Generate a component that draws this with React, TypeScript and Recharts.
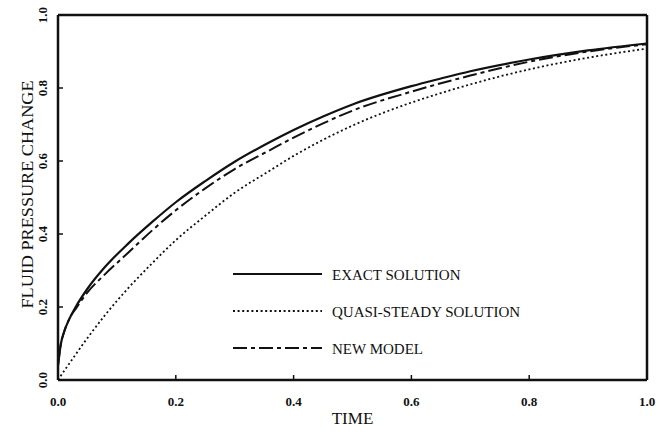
import React from 'react';
import { LineChart, Line, XAxis, YAxis, Legend, CartesianGrid } from 'recharts';

// time (dimensionless) and the three pressure curves
const times = [0, 0.005, 0.01, 0.02, 0.03, 0.05, 0.08, 0.12, 0.16, 0.2, 0.25, 0.3, 0.36, 0.4, 0.45, 0.5, 0.6, 0.65, 0.7, 0.8, 0.9, 1.0];
const exactSolution = [0.04, 0.1, 0.13, 0.17, 0.2, 0.25, 0.31, 0.375, 0.433, 0.487, 0.545, 0.598, 0.652, 0.685, 0.722, 0.755, 0.805, 0.826, 0.846, 0.878, 0.903, 0.922];
const quasiSteady = [0, 0.012, 0.024, 0.047, 0.07, 0.115, 0.178, 0.253, 0.32, 0.383, 0.45, 0.513, 0.574, 0.614, 0.658, 0.697, 0.76, 0.786, 0.81, 0.851, 0.883, 0.908];
const newModel = [0.04, 0.1, 0.13, 0.17, 0.195, 0.24, 0.29, 0.35, 0.41, 0.465, 0.525, 0.578, 0.63, 0.664, 0.703, 0.738, 0.79, 0.813, 0.834, 0.872, 0.9, 0.92];

const seriesNames = ['EXACT SOLUTION', 'QUASI-STEADY SOLUTION', 'NEW MODEL'];
const xTicks = [0, 0.2, 0.4, 0.6, 0.8, 1.0];
const yTicks = [0, 0.2, 0.4, 0.6, 0.8, 1.0];

const data = times.map((t, i) => ({
  t,
  exact: exactSolution[i],
  quasi: quasiSteady[i],
  model: newModel[i],
}));

const FONT = '"Liberation Serif", "DejaVu Serif", serif';
const dashes = [undefined, '2 2.6', '14 4 4 4'];
const frame = { stroke: '#111', strokeWidth: 2.5 };
const tickMark = { stroke: '#111', strokeWidth: 1.5 };

const XTick = ({ x, y, payload }: any) => (
  <text x={x} y={y + 9} textAnchor="middle" fontFamily={FONT} fontWeight="bold" fontSize={13} fill="#111">
    {payload.value.toFixed(1)}
  </text>
);

const YTick = ({ x, y, payload }: any) => (
  <text x={x} y={y} transform={`rotate(-90 ${x} ${y})`} textAnchor="middle" fontFamily={FONT} fontWeight="bold" fontSize={13} fill="#111">
    {payload.value.toFixed(1)}
  </text>
);

const YLabel = ({ viewBox }: any) => {
  const cx = 33;
  const cy = viewBox.y + viewBox.height / 2 - 3;
  return (
    <text x={cx} y={cy} transform={`rotate(-90 ${cx} ${cy})`} textAnchor="middle" fontFamily={FONT} fontSize={17} fill="#111"
      textLength={228} lengthAdjust="spacingAndGlyphs">
      FLUID PRESSURE CHANGE
    </text>
  );
};

const XLabel = ({ viewBox }: any) => (
  <text x={viewBox.x + viewBox.width / 2} y={424} textAnchor="middle" fontFamily={FONT} fontSize={17} fill="#111">
    TIME
  </text>
);

const LegendBox = () => (
  <svg width={300} height={100}>
    {seriesNames.map((name, i) => {
      const y = 12 + i * 37;
      return (
        <g key={name}>
          <line x1={3} x2={92} y1={y} y2={y} stroke="#111" strokeWidth={2} strokeDasharray={dashes[i]} />
          <text x={102} y={y + 5.5} fontFamily={FONT} fontSize={15} fill="#111">{name}</text>
        </g>
      );
    })}
  </svg>
);

export default function App() {
  return (
    <div style={{ position: 'absolute', left: 0, top: 0, width: 660, height: 432, background: '#fff' }}>
      <LineChart width={660} height={432} data={data} margin={{ top: 15, right: 13, bottom: 12, left: 18 }}>
        {/* grid lines only at the far edges, closing the box on top and right */}
        <CartesianGrid horizontalValues={[1]} verticalValues={[1]} stroke="#111" strokeWidth={2.5} />
        <XAxis dataKey="t" type="number" domain={[0, 1]} ticks={xTicks} height={40}
          axisLine={frame} tickLine={tickMark} tickSize={-5} tickMargin={22} tick={<XTick />} label={<XLabel />} />
        <YAxis type="number" domain={[0, 1]} ticks={yTicks} width={40}
          axisLine={frame} tickLine={tickMark} tickSize={-5} tickMargin={16} tick={<YTick />} label={<YLabel />} />
        <Legend layout="horizontal" verticalAlign="middle" align="center" content={<LegendBox />}
          wrapperStyle={{ position: 'absolute', left: 230, top: 262, width: 300, height: 100 }} />
        <Line type="monotone" dataKey="exact" name={seriesNames[0]} stroke="#111" strokeWidth={2.2} dot={false} isAnimationActive={false} />
        <Line type="monotone" dataKey="quasi" name={seriesNames[1]} stroke="#111" strokeWidth={1.8} strokeDasharray={dashes[1]} dot={false} isAnimationActive={false} />
        <Line type="monotone" dataKey="model" name={seriesNames[2]} stroke="#111" strokeWidth={2} strokeDasharray={dashes[2]} dot={false} isAnimationActive={false} />
      </LineChart>
    </div>
  );
}
